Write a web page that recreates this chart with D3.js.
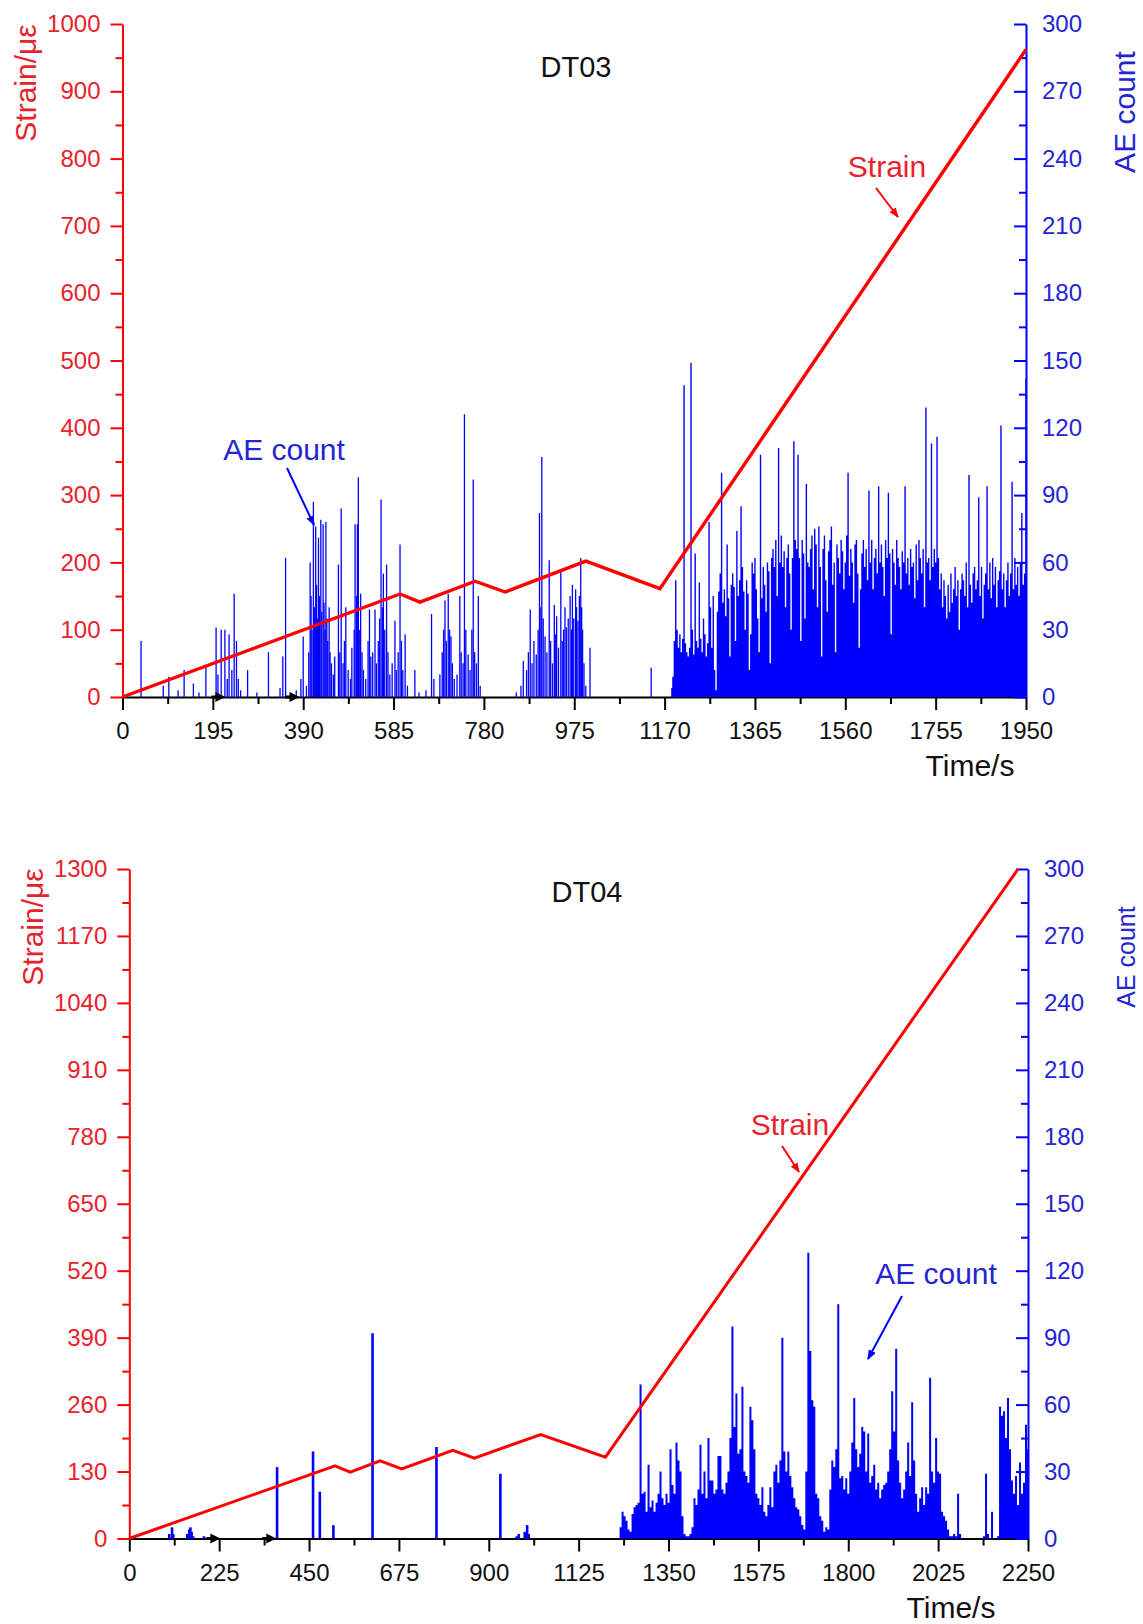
<!DOCTYPE html>
<html>
<head>
<meta charset="utf-8">
<script src="https://cdn.jsdelivr.net/npm/d3@7"></script>
<style>
  body { margin: 0; background: #fff; }
  text { font-family: "Liberation Sans", Arial, sans-serif; }
</style>
</head>
<body>
<svg id="fig" width="1143" height="1624"></svg>
<script>
// ---------------- DT03 ----------------
const timeTicks03   = [0, 195, 390, 585, 780, 975, 1170, 1365, 1560, 1755, 1950];
const strainTicks03 = [0, 100, 200, 300, 400, 500, 600, 700, 800, 900, 1000];
const aeTicks       = [0, 30, 60, 90, 120, 150, 180, 210, 240, 270, 300];

// strain history (time s, strain με)
const strainTime03 = [0, 599, 642, 761, 826, 1000, 1160, 1950];
const strainVal03  = [0, 153, 141, 172, 156, 202, 161, 962];

// isolated AE hits before the main cracking stage: [time s, count]
const aeSparse03 = [
  [40,25],[88,5],[100,9],[120,3],[133,12],[153,6],[165,2],[180,14],[202,31],[206,10],[213,30],[221,30],
  [226,8],[230,28],[236,12],[241,46],[246,25],[250,8],[255,3],[270,12],[290,2],[315,20],[340,4],[346,18],
  [352,62],[375,3],[385,8],[390,27],[397,5],
  [402,20],[405,60],[407,45],[409,30],[412,87],[414,40],[417,76],[419,50],[421,35],[423,71],[425,45],
  [428,79],[430,38],[433,77],[435,42],[437,30],[439,78],[441,35],[443,25],[446,40],[448,20],[451,15],
  [455,10],[458,18],
  [466,59],[469,20],[472,84],[476,15],[479,25],[482,40],[487,12],[492,8],[495,22],[500,30],[502,77],
  [505,45],[507,77],[509,98],[511,30],[514,46],[517,20],[520,12],[525,8],[530,25],[533,39],[536,18],
  [540,20],[545,39],[548,15],[552,25],[555,35],[558,88],[561,40],[563,55],[566,30],[570,59],[573,20],
  [577,10],[582,15],[588,34],[591,12],[595,20],[599,68],[602,25],[605,12],[610,28],[615,5],[631,12],[640,2],
  [655,3],[667,37],[672,8],[685,10],[690,20],[693,30],[696,43],[699,25],[703,46],[706,30],[709,27],
  [712,15],[716,8],[722,10],[728,45],[731,20],[735,15],[738,126],[741,30],[746,19],[750,12],[754,30],
  [757,97],[760,20],[764,15],[768,45],[772,5],
  [850,2],[860,5],[865,16],[872,12],[876,20],[880,39],[884,15],[888,25],[893,19],[897,30],[900,82],
  [903,40],[905,107],[908,35],[912,27],[916,20],[921,61],[924,25],[928,15],[932,41],[935,28],[937,36],
  [941,22],[946,56],[949,25],[952,30],[955,40],[958,31],[962,35],[966,45],[969,30],[971,50],[974,35],
  [978,48],[980,40],[983,34],[986,45],[989,62],[991,40],[993,30],[996,15],[1000,5],[1009,22],[1141,13]
];

// continuous AE record of the final stage, one count every 3 s from 1185 s
const aeDenseStart03 = 1185;
const aeDenseStep03 = 3;
const aeDense03 = [
  4, 9, 25, 52, 30, 22, 28, 20, 26, 139,
  24, 20, 18, 22, 149, 30, 19, 64, 25, 22,
  51, 26, 20, 35, 28, 18, 24, 78, 40, 22,
  45, 12, 3, 38, 47, 55, 100, 42, 48, 36,
  68, 44, 18, 50, 55, 49, 25, 74, 45, 52,
  85, 58, 47, 30, 52, 46, 12, 28, 60, 55,
  62, 48, 35, 20, 108, 44, 58, 50, 38, 60,
  56, 15, 62, 66, 58, 70, 45, 111, 60, 72,
  58, 65, 40, 62, 68, 55, 30, 62, 114, 70,
  66, 108, 62, 25, 70, 64, 35, 95, 60, 58,
  66, 72, 48, 75, 68, 40, 76, 58, 18, 66,
  72, 52, 38, 65, 70, 76, 50, 60, 20, 68,
  62, 55, 70, 65, 48, 60, 72, 100, 54, 66,
  60, 42, 68, 70, 55, 22, 48, 64, 70, 58,
  66, 52, 92, 60, 70, 48, 62, 66, 55, 94,
  60, 68, 58, 45, 70, 62, 91, 64, 28, 66,
  60, 50, 70, 62, 58, 48, 65, 60, 94, 55,
  62, 50, 66, 58, 60, 44, 68, 52, 70, 62,
  55, 66, 40, 129, 60, 62, 52, 113, 58, 66,
  60, 116, 62, 48, 55, 40, 52, 45, 35, 50,
  38, 55, 42, 48, 58, 45, 52, 30, 48, 55,
  52, 45, 60, 40, 99, 50, 42, 55, 58, 48,
  52, 89, 45, 58, 35, 50, 55, 94, 48, 60,
  44, 62, 50, 58, 40, 52, 56, 121, 48, 55,
  40, 52, 60, 45, 55, 96, 48, 62, 50, 58,
  45, 60, 82, 50, 55, 142
];
const loadMarks03 = [222, 382];

// ---------------- DT04 ----------------
const timeTicks04   = [0, 225, 450, 675, 900, 1125, 1350, 1575, 1800, 2025, 2250];
const strainTicks04 = [0, 130, 260, 390, 520, 650, 780, 910, 1040, 1170, 1300];

const strainTime04 = [0, 515, 553, 628, 682, 810, 864, 1030, 1192, 2225];
const strainVal04  = [0, 141, 129, 151, 135, 171, 156, 202, 158, 1300];

const aeSparse04 = [
  [100,2],[107,5],[110,2],[145,2],[150,4],[153,5],[156,3],[160,1],[187,1],
  [370,32],[460,39],[477,21],[511,6],[609,92],[769,41],[929,29],
  [970,1],[975,2],[990,3],[996,6],[1000,2]
];

// one count every 5 s from 1225 s
const aeDenseStart04 = 1225;
const aeDenseStep04 = 5;
const aeDense04 = [
  0, 5, 12, 10, 8, 4, 3, 11, 14, 15,
  16, 69, 20, 21, 12, 33, 14, 17, 12, 16,
  20, 30, 18, 15, 20, 16, 40, 24, 20, 43,
  35, 30, 10, 2, 1, 1, 2, 5, 18, 15,
  22, 42, 20, 30, 18, 45, 26, 26, 20, 22,
  37, 37, 22, 20, 25, 30, 45, 95, 50, 65,
  38, 40, 68, 30, 28, 25, 59, 53, 40, 20,
  18, 15, 23, 12, 10, 15, 23, 14, 30, 33,
  25, 35, 90, 39, 30, 39, 28, 23, 18, 14,
  13, 10, 6, 4, 30, 128, 84, 62, 59, 20,
  18, 10, 8, 3, 5, 4, 22, 35, 32, 40,
  105, 27, 28, 22, 27, 20, 30, 43, 63, 40,
  32, 38, 50, 48, 30, 47, 25, 28, 33, 22,
  25, 18, 22, 24, 25, 30, 40, 66, 48, 85,
  35, 25, 18, 22, 30, 43, 28, 61, 35, 20,
  12, 18, 23, 15, 23, 20, 72, 30, 25, 45,
  30, 29, 12, 10, 8, 4, 1, 1, 2, 1,
  20, 2, 0, 0, 0, 0, 0, 0, 0, 0,
  0, 0, 0, 1, 29, 2, 0, 12, 0, 0,
  1, 59, 55, 57, 45, 63, 40, 26, 20, 28,
  15, 34, 20, 25, 51, 40
];
const loadMarks04 = [228, 368];

// ---------------- drawing ----------------
const RED = "#ff0000", RED_TXT = "#e8222c";
const BLUE = "#0000ff", BLUE_TXT = "#2424d4";
const FONT = '"Liberation Sans", Arial, sans-serif';
const svg = d3.select("#fig");
svg.append("rect").attr("width", 1143).attr("height", 1624).attr("fill", "#fff");

const defs = svg.append("defs");
[["arrRed", RED], ["arrBlue", BLUE]].forEach(([id, c]) => {
  defs.append("marker").attr("id", id)
    .attr("viewBox", "0 0 10 8").attr("refX", 9).attr("refY", 4)
    .attr("markerWidth", 10).attr("markerHeight", 8).attr("markerUnits", "userSpaceOnUse")
    .attr("orient", "auto")
    .append("path").attr("d", "M0,0 L10,4 L0,8 Z").attr("fill", c);
});

const mids = arr => d3.pairs(arr).map(([a, b]) => (a + b) / 2);

function styleAxis(g, color, textColor, size) {
  g.selectAll("g").attr("font-size", size).attr("font-family", FONT);
  g.selectAll("path, line").attr("stroke", color).attr("stroke-width", 2);
  g.selectAll("text").attr("fill", textColor).attr("font-size", size).attr("font-family", FONT);
}

function drawPanel(p) {
  const x  = d3.scaleLinear().domain([0, p.tMax]).range([p.left, p.right]);
  const yS = d3.scaleLinear().domain([0, p.sMax]).range([p.bottom, p.top]);
  const yA = d3.scaleLinear().domain([0, 300]).range([p.bottom, p.top]);
  const g = svg.append("g");

  // time axis
  const gx = g.append("g").attr("transform", `translate(0,${p.bottom})`);
  gx.append("g").call(d3.axisBottom(x).tickValues(mids(p.timeTicks)).tickSize(7).tickFormat(""))
    .call(a => a.select(".domain").remove());
  gx.append("g").call(d3.axisBottom(x).tickValues(p.timeTicks).tickSizeInner(13).tickSizeOuter(0)
    .tickPadding(12).tickFormat(d3.format("d")));
  styleAxis(gx, "#000", "#111", 24);

  // strain axis (left)
  const gl = g.append("g").attr("transform", `translate(${p.left},0)`);
  gl.append("g").call(d3.axisLeft(yS).tickValues(mids(p.strainTicks)).tickSize(7).tickFormat(""))
    .call(a => a.select(".domain").remove());
  gl.append("g").call(d3.axisLeft(yS).tickValues(p.strainTicks).tickSizeInner(12).tickSizeOuter(0)
    .tickPadding(10).tickFormat(d3.format("d")));
  styleAxis(gl, RED, RED_TXT, 24);

  // AE axis (right, ticks pointing inward)
  const gr = g.append("g").attr("transform", `translate(${p.right},0)`);
  gr.append("g").call(d3.axisRight(yA).tickValues(mids(aeTicks)).tickSizeInner(-7).tickPadding(0).tickFormat(""))
    .call(a => a.select(".domain").remove());
  gr.append("g").call(d3.axisRight(yA).tickValues(aeTicks).tickSizeInner(-12).tickSizeOuter(0)
    .tickPadding(16).tickFormat(d3.format("d")));
  styleAxis(gr, BLUE, BLUE_TXT, 24);

  // AE counts: isolated hits as impulses, continuous record as a stepped area
  const gb = g.append("g");
  gb.selectAll("line.ae").data(p.aeSparse).join("line").attr("class", "ae")
    .attr("x1", d => x(d[0])).attr("x2", d => x(d[0]))
    .attr("y1", yA(0)).attr("y2", d => yA(d[1]))
    .attr("stroke", BLUE).attr("stroke-width", p.sparseWidth);
  const dense = p.aeDense.map((v, i) => [p.denseStart + i * p.denseStep, v]);
  const half = p.denseStep / 2;
  const area = d3.area().curve(d3.curveStep)
    .x(d => x(d[0])).y0(yA(0)).y1(d => yA(d[1]));
  gb.append("path")
    .datum([[dense[0][0] - half, 0], ...dense, [dense[dense.length - 1][0] + half, 0]])
    .attr("d", area).attr("fill", BLUE);

  // small black loading marks on the time axis
  g.selectAll("path.mark").data(p.marks).join("path").attr("class", "mark")
    .attr("d", d => `M${x(d) - 14},${p.bottom - 1.5} L${x(d) - 10},${p.bottom - 1.5} L${x(d) - 10},${p.bottom - 5} L${x(d)},${p.bottom} L${x(d) - 10},${p.bottom + 5} L${x(d) - 10},${p.bottom + 1.5} L${x(d) - 14},${p.bottom + 1.5} Z`)
    .attr("fill", "#000");

  // strain curve
  const line = d3.line().x(d => x(d[0])).y(d => yS(d[1]));
  g.append("path").datum(d3.zip(p.strainTime, p.strainVal))
    .attr("d", line).attr("fill", "none").attr("stroke", RED)
    .attr("stroke-width", p.lineWidth).attr("stroke-linejoin", "miter");

  // titles and annotations
  const txt = (x0, y0, s, size, color, rot) => {
    const t = g.append("text").attr("x", x0).attr("y", y0).text(s)
      .attr("font-size", size).attr("fill", color)
      .attr("text-anchor", "middle").attr("dominant-baseline", "central");
    if (rot) t.attr("transform", `rotate(-90,${x0},${y0})`);
    return t;
  };
  txt(p.left - 97, p.leftTitleY, "Strain/με", 30, RED_TXT, true);
  txt(p.right + 98, p.rightTitleY, "AE count", p.rightTitleSize, BLUE_TXT, true);
  txt(p.titlePos[0], p.titlePos[1], p.title, 29, "#111");
  txt(p.timeTitlePos[0], p.timeTitlePos[1], "Time/s", 30, "#111");
  txt(p.strainNote[0], p.strainNote[1], "Strain", 30, RED_TXT);
  txt(p.aeNote[0], p.aeNote[1], "AE count", 30, BLUE_TXT);
  g.append("line").attr("x1", p.strainArrow[0]).attr("y1", p.strainArrow[1])
    .attr("x2", p.strainArrow[2]).attr("y2", p.strainArrow[3])
    .attr("stroke", RED).attr("stroke-width", 2).attr("marker-end", "url(#arrRed)");
  g.append("line").attr("x1", p.aeArrow[0]).attr("y1", p.aeArrow[1])
    .attr("x2", p.aeArrow[2]).attr("y2", p.aeArrow[3])
    .attr("stroke", BLUE).attr("stroke-width", 2).attr("marker-end", "url(#arrBlue)");
}

drawPanel({
  left: 122.5, right: 1026, top: 24, bottom: 697,
  tMax: 1950, sMax: 1000,
  timeTicks: timeTicks03, strainTicks: strainTicks03,
  strainTime: strainTime03, strainVal: strainVal03,
  aeSparse: aeSparse03, sparseWidth: 1.3,
  aeDense: aeDense03, denseStart: aeDenseStart03, denseStep: aeDenseStep03,
  marks: loadMarks03, lineWidth: 3.4,
  leftTitleY: 83, rightTitleY: 112, rightTitleSize: 30,
  title: "DT03", titlePos: [576, 67], timeTitlePos: [970, 765],
  strainNote: [887, 166], strainArrow: [876, 188, 898, 217],
  aeNote: [284, 449], aeArrow: [287, 468, 314, 525]
});

drawPanel({
  left: 129.3, right: 1028, top: 869, bottom: 1538.5,
  tMax: 2250, sMax: 1300,
  timeTicks: timeTicks04, strainTicks: strainTicks04,
  strainTime: strainTime04, strainVal: strainVal04,
  aeSparse: aeSparse04, sparseWidth: 2.6,
  aeDense: aeDense04, denseStart: aeDenseStart04, denseStep: aeDenseStep04,
  marks: loadMarks04, lineWidth: 3,
  leftTitleY: 927, rightTitleY: 957, rightTitleSize: 25,
  title: "DT04", titlePos: [587, 892], timeTitlePos: [951, 1607],
  strainNote: [790, 1124], strainArrow: [782, 1146, 799, 1172],
  aeNote: [936, 1273], aeArrow: [902, 1296, 868, 1359]
});
</script>
</body>
</html>
